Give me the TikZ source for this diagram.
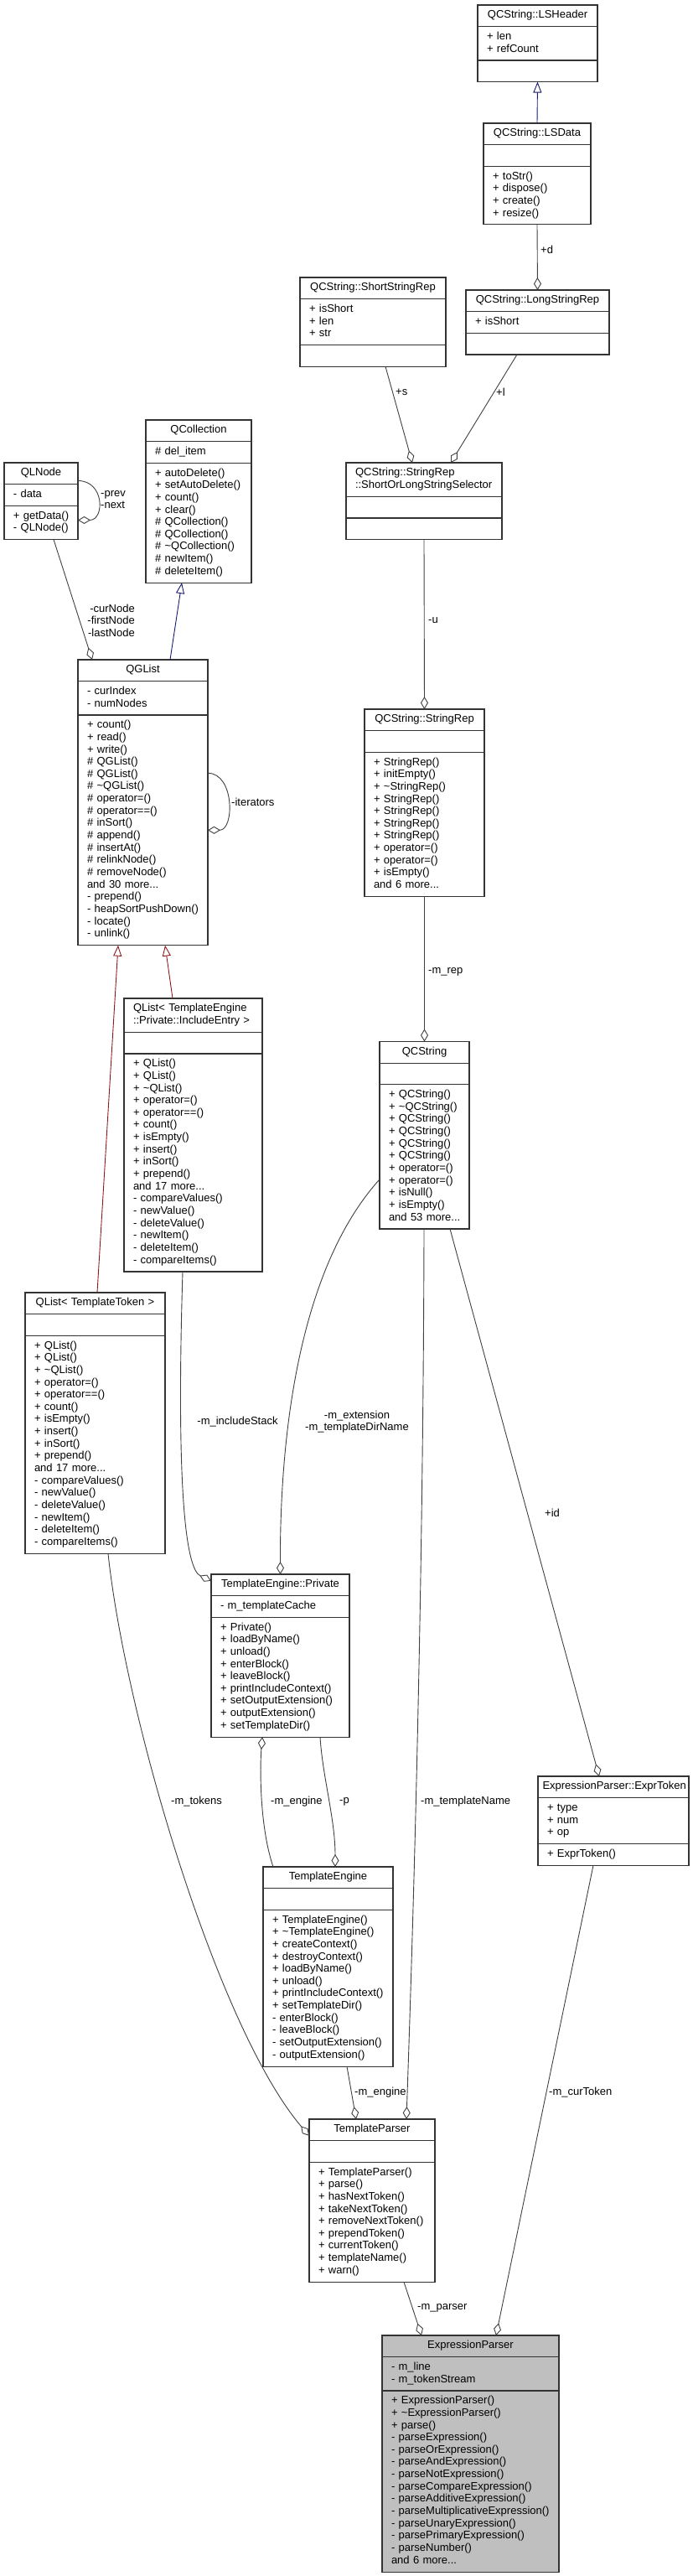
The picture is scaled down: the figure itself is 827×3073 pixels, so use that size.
\documentclass[tikz,border=0pt]{standalone}
\usepackage{fontspec}
\setmainfont{Liberation Sans}
\usetikzlibrary{arrows.meta, positioning}
\definecolor{edgegray}{HTML}{404040}
\definecolor{inhblue}{HTML}{191970}
\definecolor{inhred}{HTML}{8B1A1A}
\definecolor{mainfill}{HTML}{BFBFBF}

% class box: name, top centre, width, title lines, title, attr lines, attrs, method lines, methods
\newcommand{\umlclass}[9]{%
  \pgfmathsetmacro\clsw{#3-11}%
  \pgfmathsetmacro\clsht{14.65*#4+11}%
  \pgfmathsetmacro\clsha{14.65*max(#6,1)+11}%
  \pgfmathsetmacro\clshm{14.65*max(#8,1)+11}%
  \ifnum#4>1
    \node[clspart, anchor=north, text width=\clsw pt, minimum height=\clsht pt] (#1) at (#2)
      {\leftskip=5.5pt\relax\strut#5\strut\par};
  \else
    \node[clspart, align=center, anchor=north, text width=\clsw pt, minimum height=\clsht pt] (#1) at (#2)
      {\strut#5\strut\par};
  \fi
  \node[clspart, below=0pt of #1, text width=\clsw pt, minimum height=\clsha pt] (#1-a)
    {\leftskip=5.5pt\relax\strut#7\strut\par};
  \node[clspart, below=0pt of #1-a, text width=\clsw pt, minimum height=\clshm pt] (#1-m)
    {\leftskip=5.5pt\relax\strut#9\strut\par};
}

\begin{document}
\begin{tikzpicture}[x=1pt, y=-1pt]
    % Styles
    \tikzstyle{clspart} = [rectangle, draw=black!80, line width=1.1pt, fill=white,
        inner xsep=5.5pt, inner ysep=2pt, outer sep=0pt, align=left,
        font=\fontsize{13}{14.65}\selectfont]
    \tikzstyle{lbl} = [inner sep=0pt, anchor=west, font=\fontsize{13}{14.65}\selectfont]
    \tikzstyle{aggr} = [draw=edgegray, line width=0.9pt, -{Diamond[length=15pt, width=9pt, fill=white]}]
    \tikzstyle{inhb} = [draw=inhblue, line width=0.9pt, -{Triangle[length=13pt, width=10pt, fill=white]}]
    \tikzstyle{inhr} = [draw=inhred, line width=0.9pt, -{Triangle[length=13pt, width=10pt, fill=white]}]

    \useasboundingbox (0,0) rectangle (827,3073);

    % Classes
    \umlclass{lshdr}{641.5,6}{143}{1}{QCString::LSHeader}{2}{+ len\\+ refCount}{0}{}
    \umlclass{lsdata}{641,147}{128}{1}{QCString::LSData}{0}{}{4}{+ toStr()\\+ dispose()\\+ create()\\+ resize()}
    \umlclass{lsrep}{641.5,346}{171}{1}{QCString::LongStringRep}{1}{+ isShort}{0}{}
    \umlclass{ssrep}{445,331}{174}{1}{QCString::ShortStringRep}{3}{+ isShort\\+ len\\+ str}{0}{}
    \umlclass{sel}{506,552}{186}{2}{QCString::StringRep\\::ShortOrLongStringSelector}{0}{}{0}{}
    \umlclass{strrep}{506.5,846}{143}{1}{QCString::StringRep}{0}{}{11}{+ StringRep()\\+ initEmpty()\\+ \textasciitilde StringRep()\\+ StringRep()\\+ StringRep()\\+ StringRep()\\+ StringRep()\\+ operator=()\\+ operator=()\\+ isEmpty()\\and 6 more...}
    \umlclass{qcstr}{506.5,1242.5}{107}{1}{QCString}{0}{}{11}{+ QCString()\\+ \textasciitilde QCString()\\+ QCString()\\+ QCString()\\+ QCString()\\+ QCString()\\+ operator=()\\+ operator=()\\+ isNull()\\+ isEmpty()\\and 53 more...}
    \umlclass{qlnode}{49,552}{88}{1}{QLNode}{1}{- data}{2}{+ getData()\\- QLNode()}
    \umlclass{qcoll}{237,501}{126}{1}{QCollection}{1}{\# del\_item}{9}{+ autoDelete()\\+ setAutoDelete()\\+ count()\\+ clear()\\\# QCollection()\\\# QCollection()\\\# \textasciitilde QCollection()\\\# newItem()\\\# deleteItem()}
    \umlclass{qglist}{170.5,787}{155}{1}{QGList}{2}{- curIndex\\- numNodes}{18}{+ count()\\+ read()\\+ write()\\\# QGList()\\\# QGList()\\\# \textasciitilde QGList()\\\# operator=()\\\# operator==()\\\# inSort()\\\# append()\\\# insertAt()\\\# relinkNode()\\\# removeNode()\\and 30 more...\\- prepend()\\- heapSortPushDown()\\- locate()\\- unlink()}
    \umlclass{qlie}{230.5,1191}{165}{2}{QList< TemplateEngine\\::Private::IncludeEntry >}{0}{}{17}{+ QList()\\+ QList()\\+ \textasciitilde QList()\\+ operator=()\\+ operator==()\\+ count()\\+ isEmpty()\\+ insert()\\+ inSort()\\+ prepend()\\and 17 more...\\- compareValues()\\- newValue()\\- deleteValue()\\- newItem()\\- deleteItem()\\- compareItems()}
    \umlclass{qltt}{113.5,1542}{167}{1}{QList< TemplateToken >}{0}{}{17}{+ QList()\\+ QList()\\+ \textasciitilde QList()\\+ operator=()\\+ operator==()\\+ count()\\+ isEmpty()\\+ insert()\\+ inSort()\\+ prepend()\\and 17 more...\\- compareValues()\\- newValue()\\- deleteValue()\\- newItem()\\- deleteItem()\\- compareItems()}
    \umlclass{priv}{334.5,1878}{165}{1}{TemplateEngine::Private}{1}{- m\_templateCache}{9}{+ Private()\\+ loadByName()\\+ unload()\\+ enterBlock()\\+ leaveBlock()\\+ printIncludeContext()\\+ setOutputExtension()\\+ outputExtension()\\+ setTemplateDir()}
    \umlclass{teng}{391.5,2227}{155}{1}{TemplateEngine}{0}{}{12}{+ TemplateEngine()\\+ \textasciitilde TemplateEngine()\\+ createContext()\\+ destroyContext()\\+ loadByName()\\+ unload()\\+ printIncludeContext()\\+ setTemplateDir()\\- enterBlock()\\- leaveBlock()\\- setOutputExtension()\\- outputExtension()}
    \umlclass{tpars}{444,2528}{150}{1}{TemplateParser}{0}{}{9}{+ TemplateParser()\\+ parse()\\+ hasNextToken()\\+ takeNextToken()\\+ removeNextToken()\\+ prependToken()\\+ currentToken()\\+ templateName()\\+ warn()}
    \umlclass{extok}{732,2119}{180}{1}{ExpressionParser::ExprToken}{3}{+ type\\+ num\\+ op}{1}{+ ExprToken()}
    \begin{scope}[clspart/.append style={fill=mainfill}]
    \umlclass{expr}{561.5,2786}{211}{1}{ExpressionParser}{2}{- m\_line\\- m\_tokenStream}{14}{+ ExpressionParser()\\+ \textasciitilde ExpressionParser()\\+ parse()\\- parseExpression()\\- parseOrExpression()\\- parseAndExpression()\\- parseNotExpression()\\- parseCompareExpression()\\- parseAdditiveExpression()\\- parseMultiplicativeExpression()\\- parseUnaryExpression()\\- parsePrimaryExpression()\\- parseNumber()\\and 6 more...}
    \end{scope}

    % Inheritance
    \draw [inhb] (lsdata.north) -- (lshdr-m.south);
    \draw [inhb] ([xshift=32.5pt]qglist.north) -- ([xshift=-20pt]qcoll-m.south);
    \draw [inhr] ([xshift=2.5pt]qltt.north) -- ([xshift=-29.5pt]qglist-m.south);
    \draw [inhr] ([xshift=-24.5pt]qlie.north) -- ([xshift=26.5pt]qglist-m.south);

    % Members
    \draw [aggr] (lsdata-m.south) -- (lsrep.north);
    \draw [aggr] ([xshift=15pt]ssrep-m.south) -- ([xshift=-14pt]sel.north);
    \draw [aggr] ([xshift=-24.5pt]lsrep-m.south) -- ([xshift=32pt]sel.north);
    \draw [aggr] (sel-m.south) -- (strrep.north);
    \draw [aggr] (strrep-m.south) -- (qcstr.north);
    \draw [aggr] ([xshift=15pt]qlnode-m.south) -- ([xshift=-60.5pt]qglist.north);
    \draw [aggr] ([yshift=17pt]qlnode-a.east) .. controls +(32,0) and +(32,0) .. ([yshift=-30pt]qlnode-a.east);
    \draw [aggr] ([yshift=68pt]qglist-m.east) .. controls +(32,0) and +(32,0) .. (qglist-m.east);
    \draw [aggr] ([xshift=-12.5pt]qlie-m.south) .. controls (210,1780) and (222,1872) .. ([yshift=5pt]priv.west);
    \draw [aggr] ([yshift=-27pt]qcstr-m.west) .. controls (360,1510) and (334,1700) .. (priv.north);
    \draw [aggr] ([xshift=-0.5pt]qcstr-m.south) .. controls (505,1950) and (490,2380) .. ([xshift=41pt]tpars.north);
    \draw [aggr] ([xshift=30.5pt]qcstr-m.south) -- ([xshift=-17pt]extok.north);
    \draw [aggr] ([xshift=-24pt]extok-m.south) -- ([xshift=30.5pt]expr.north);
    \draw [aggr] ([xshift=15.5pt]qltt-m.south) .. controls (150,2050) and (260,2420) .. ([yshift=-7pt]tpars.west);
    \draw [aggr] ([xshift=-65.5pt]teng.north) .. controls (310,2180) and (310,2110) .. ([xshift=-21.5pt]priv-m.south);
    \draw [aggr] ([xshift=47.5pt]priv-m.south) .. controls (385,2120) and (400,2170) .. ([xshift=8.5pt]teng.north);
    \draw [aggr] ([xshift=22.5pt]teng-m.south) -- ([xshift=-19pt]tpars.north);
    \draw [aggr] ([xshift=38pt]tpars-m.south) -- ([xshift=-58.5pt]expr.north);

    % Labels
    \node [lbl] (l-d) at (645,298) {+d};
    \node [lbl] (l-s) at (472,468) {+s};
    \node [lbl] (l-l) at (592,468) {+l};
    \node [lbl] (l-u) at (511,740) {-u};
    \node [lbl] (l-rep) at (511,1159) {-m\_rep};
    \node [lbl, anchor=east, align=right] (l-nodes) at (161,740) {-curNode\\-firstNode\\-lastNode};
    \node [lbl, align=left] (l-prevnext) at (120,596) {-prev\\-next};
    \node [lbl] (l-iter) at (276,957) {-iterators};
    \node [lbl, anchor=center] (l-inc) at (283.5,1696) {-m\_includeStack};
    \node [lbl, anchor=center, align=center] (l-ext) at (426,1696) {-m\_extension\\-m\_templateDirName};
    \node [lbl] (l-tname) at (502,2149) {-m\_templateName};
    \node [lbl] (l-id) at (650,1805) {+id};
    \node [lbl] (l-cur) at (655,2496) {-m\_curToken};
    \node [lbl] (l-tok) at (204,2149) {-m\_tokens};
    \node [lbl] (l-eng1) at (323,2149) {-m\_engine};
    \node [lbl] (l-p) at (405,2149) {-p};
    \node [lbl] (l-eng2) at (423,2496) {-m\_engine};
    \node [lbl] (l-pars) at (498,2753) {-m\_parser};
\end{tikzpicture}
\end{document}
